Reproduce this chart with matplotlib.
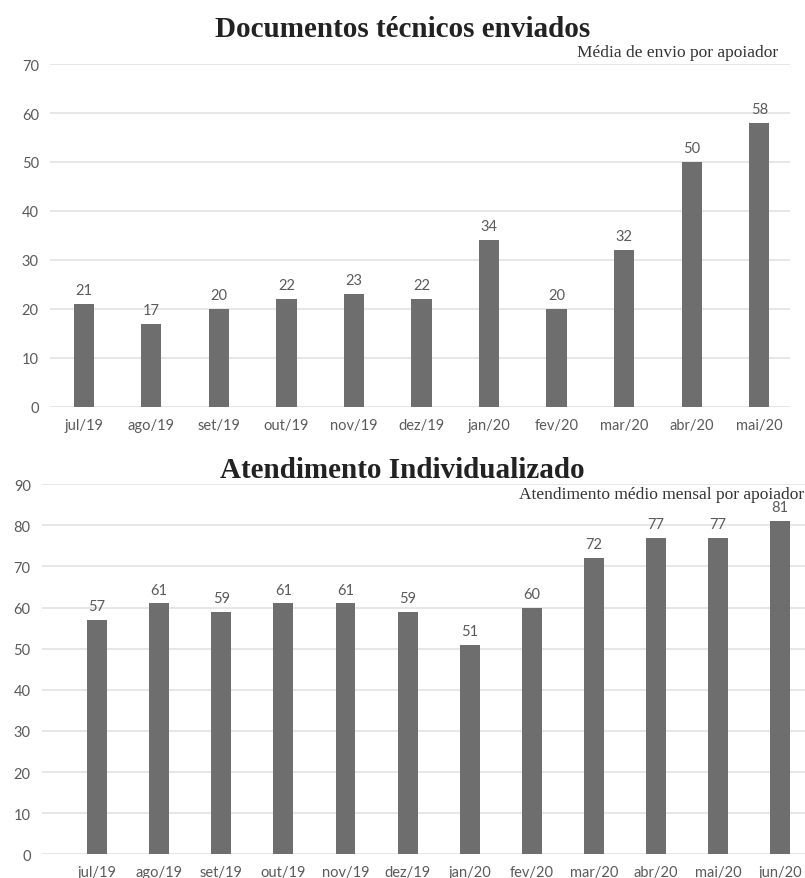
import matplotlib.pyplot as plt

meses1 = ["jul/19", "ago/19", "set/19", "out/19", "nov/19", "dez/19",
          "jan/20", "fev/20", "mar/20", "abr/20", "mai/20"]
docs = [21, 17, 20, 22, 23, 22, 34, 20, 32, 50, 58]

meses2 = ["jul/19", "ago/19", "set/19", "out/19", "nov/19", "dez/19",
          "jan/20", "fev/20", "mar/20", "abr/20", "mai/20", "jun/20"]
atend = [57, 61, 59, 61, 61, 59, 51, 60, 72, 77, 77, 81]

bar_color = "#6e6e6e"
txt_color = "#5a5a5a"
grid_color = "#e3e3e3"
sans = "Lato"
serif = "Liberation Serif"

fig = plt.figure(figsize=(8.05, 8.79), dpi=100)


def draw(ax, cats, vals, ymax, xlim, width, tick_size):
    x = range(len(cats))
    ax.bar(x, vals, width=width, color=bar_color, zorder=3)
    for i, v in zip(x, vals):
        ax.annotate(str(v), (i, v), xytext=(0, 5), textcoords="offset points",
                    ha="center", va="bottom", fontsize=10.5, color=txt_color,
                    family=sans)
    ax.set_ylim(0, ymax)
    ax.set_xlim(*xlim)
    ax.set_yticks(range(0, ymax + 1, 10))
    ax.set_xticks(list(x))
    ax.set_xticklabels(cats, fontsize=tick_size, color=txt_color, family=sans)
    for lab in ax.get_yticklabels():
        lab.set_family(sans)
        lab.set_color(txt_color)
        lab.set_fontsize(10.5)
    ax.grid(axis="y", color=grid_color, linewidth=1.2, zorder=0)
    for s in ax.spines.values():
        s.set_visible(False)
    ax.tick_params(length=0, pad=8)


ax1 = fig.add_axes([0.062, 0.536, 0.919, 0.390])
draw(ax1, meses1, docs, 70, (-0.5, 10.45), 0.3, 10.5)
fig.text(0.5, 0.967, "Documentos técnicos enviados", ha="center", va="center",
         fontsize=21, fontweight="bold", family=serif, color="#222222")
fig.text(0.967, 0.940, "Média de envio por apoiador", ha="right", va="center",
         fontsize=12.5, family=serif, color="#333333")

ax2 = fig.add_axes([0.052, 0.027, 0.948, 0.421])
draw(ax2, meses2, atend, 90, (-0.89, 11.4), 0.32, 10.5)
fig.text(0.5, 0.465, "Atendimento Individualizado", ha="center", va="center",
         fontsize=21, fontweight="bold", family=serif, color="#222222")
fig.text(0.999, 0.437, "Atendimento médio mensal por apoiador", ha="right",
         va="center", fontsize=12.5, family=serif, color="#333333")

fig.savefig("out.png", dpi=100)
